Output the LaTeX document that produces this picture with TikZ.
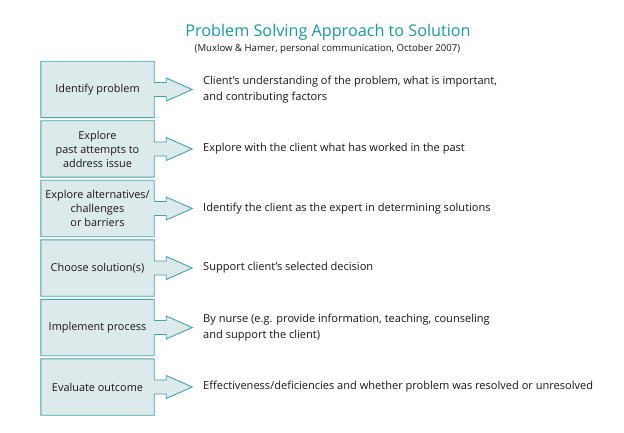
\documentclass[tikz,border=0pt]{standalone}
\usepackage{fontspec}
\setmainfont{Open Sans}
\usetikzlibrary{calc,backgrounds}
\definecolor{titlecol}{HTML}{1A9AA0}
\definecolor{edgecol}{HTML}{46A3A8}
\definecolor{boxfill}{HTML}{DDEAEB}
\definecolor{txt}{HTML}{1A1718}
\newcommand\arrowbox[1]{%
  \begin{scope}[on background layer]
  \path[shapestyle] (#1.north west) -- (#1.north east) -- ($(#1.east)+(0,-7)$) -- ++(12,0) -- ++(0,-4.5)
    -- ($(#1.east)+(38,0)$) -- ($(#1.east)+(12,11.5)$) -- ++(0,-4.5) -- ($(#1.east)+(0,7)$)
    -- (#1.south east) -- (#1.south west) -- cycle;
  \end{scope}}
\begin{document}
\begin{tikzpicture}[x=1pt,y=-1pt,
  stepbox/.style={minimum width=113pt,minimum height=56pt,inner sep=0pt,align=center,
    font=\fontsize{10.9}{14}\selectfont,text=txt},
  desc/.style={anchor=west,inner sep=0pt,align=left,font=\fontsize{11.05}{16}\selectfont,text=txt},
  shapestyle/.style={draw=edgecol,fill=boxfill,line width=0.9pt,line join=miter}]
\useasboundingbox (0,0) rectangle (624,433);
\begin{scope}[on background layer]
\fill[white] (0,0) rectangle (624,433);
\end{scope}
\node[font=\fontsize{16.2}{19}\selectfont,text=titlecol,inner sep=0pt] (title) at (328,32) {Problem Solving Approach to Solution};
\node[font=\fontsize{9.6}{11}\selectfont,text=txt,inner sep=0pt] (sub) at (327.5,49) {(Muxlow \& Hamer, personal communication, October 2007)};

\node[stepbox] (b1) at (97.5,89.5) {Identify problem};
\node[stepbox] (b2) at (97.5,149) {Explore\\past attempts to\\address issue};
\node[stepbox] (b3) at (97.5,208.5) {Explore alternatives/\\challenges\\or barriers};
\node[stepbox] (b4) at (97.5,268) {Choose solution(s)};
\node[stepbox] (b5) at (97.5,327.5) {Implement process};
\node[stepbox] (b6) at (97.5,387) {Evaluate outcome};
\arrowbox{b1}\arrowbox{b2}\arrowbox{b3}\arrowbox{b4}\arrowbox{b5}\arrowbox{b6}

\node[desc] (t1) at (203,89.5) {Client’s understanding of the problem, what is important,\\and contributing factors};
\node[desc] (t2) at (203,149) {Explore with the client what has worked in the past};
\node[desc] (t3) at (203,208.5) {Identify the client as the expert in determining solutions};
\node[desc] (t4) at (203,268) {Support client’s selected decision};
\node[desc] (t5) at (203,327.5) {By nurse (e.g. provide information, teaching, counseling\\and support the client)};
\node[desc] (t6) at (203,387) {Effectiveness/deficiencies and whether problem was resolved or unresolved};
\end{tikzpicture}
\end{document}
